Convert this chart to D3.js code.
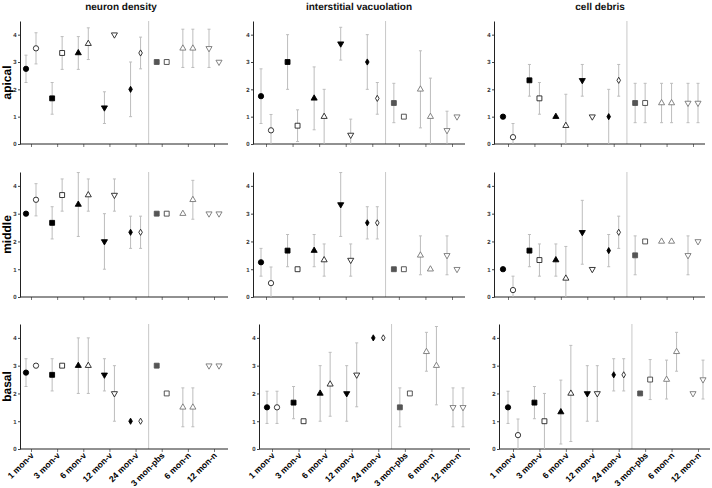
<!DOCTYPE html>
<html><head><meta charset="utf-8">
<script src="https://cdn.jsdelivr.net/npm/d3@7"></script>
<style>body{margin:0;background:#fff}svg{display:block;font-family:"Liberation Sans",Arial,sans-serif;text-rendering:geometricPrecision}</style>
</head><body><svg id="c" width="712" height="488"></svg>
<script>
const categories = ["1 mon-v","3 mon-v","6 mon-v","12 mon-v","24 mon-v","3 mon-pbs","6 mon-n","12 mon-n"];
const measures = ["neuron density","interstitial vacuolation","cell debris"];
const regions = ["apical","middle","basal"];
const yTicks = [0,1,2,3,4];

// neuron density
const ndApicalA = [2.75,1.67,3.33,1.33,2.0,3.0,3.5,3.5];
const ndApicalAErr = [0.5,0.58,0.6,0.58,1.0,0,0.7,0.7];
const ndApicalB = [3.5,3.33,3.67,4.0,3.33,3.0,3.5,3.0];
const ndApicalBErr = [0.57,0.6,0.58,0,0.58,0,0.7,0];
const ndMiddleA = [3.0,2.67,3.33,2.0,2.33,3.0,3.0,3.0];
const ndMiddleAErr = [0,0.58,1.15,1.0,0.58,0,0,0];
const ndMiddleB = [3.5,3.67,3.67,3.67,2.33,3.0,3.5,3.0];
const ndMiddleBErr = [0.58,0.58,0.58,0.58,0.58,0,0.7,0];
const ndBasalA = [2.75,2.67,3.0,2.67,1.0,3.0,1.5,3.0];
const ndBasalAErr = [0.5,0.58,1.0,0.58,0,0,0.7,0];
const ndBasalB = [3.0,3.0,3.0,2.0,1.0,2.0,1.5,3.0];
const ndBasalBErr = [0,0,1.0,1.0,0,0,0.7,0];
// interstitial vacuolation
const ivApicalA = [1.75,3.0,1.67,3.67,3.0,1.5,2.0,0.5];
const ivApicalAErr = [1.0,1.0,1.15,0.6,1.0,0.72,1.41,0.7];
const ivApicalB = [0.5,0.67,1.0,0.33,1.67,1.0,1.0,1.0];
const ivApicalBErr = [0.58,0.58,1.0,0.58,0.58,0,1.41,0];
const ivMiddleA = [1.25,1.67,1.67,3.33,2.67,1.0,1.5,1.5];
const ivMiddleAErr = [0.5,0.58,0.58,1.15,0.58,0,0.7,0.7];
const ivMiddleB = [0.5,1.0,1.33,1.33,2.67,1.0,1.0,1.0];
const ivMiddleBErr = [0.58,0,0.58,0.58,0.58,0,0,0];
const ivBasalA = [1.5,1.67,2.0,2.0,4.0,1.5,3.5,1.5];
const ivBasalAErr = [0.58,0.58,1.0,1.0,0,0.7,0.7,0.7];
const ivBasalB = [1.5,1.0,2.33,2.67,4.0,2.0,3.0,1.5];
const ivBasalBErr = [0.58,0,1.15,1.15,0,0,1.41,0.7];
// cell debris
const cdApicalA = [1.0,2.33,1.0,2.33,1.0,1.5,1.5,1.5];
const cdApicalAErr = [0,0.58,0,0.58,1.0,0.72,0.72,0.72];
const cdApicalB = [0.25,1.67,0.67,1.0,2.33,1.5,1.5,1.5];
const cdApicalBErr = [0.5,0.58,1.15,0,0.58,0.72,0.72,0.72];
const cdMiddleA = [1.0,1.67,1.33,2.33,1.67,1.5,2.0,1.5];
const cdMiddleAErr = [0,0.58,0.58,1.15,0.58,0.7,0,0.7];
const cdMiddleB = [0.25,1.33,0.67,1.0,2.33,2.0,2.0,2.0];
const cdMiddleBErr = [0.5,0.58,1.15,0,0.58,0,0,0];
const cdBasalA = [1.5,1.67,1.33,2.0,2.67,2.0,2.5,2.0];
const cdBasalAErr = [0.58,0.58,1.15,1.0,0.58,0,0.7,0];
const cdBasalB = [0.5,1.0,2.0,2.0,2.67,2.5,3.5,2.5];
const cdBasalBErr = [0.58,1.0,1.73,1.0,0.58,0.72,0.7,0.7];

const panelData = [
  [[ndApicalA,ndApicalAErr,ndApicalB,ndApicalBErr],[ivApicalA,ivApicalAErr,ivApicalB,ivApicalBErr],[cdApicalA,cdApicalAErr,cdApicalB,cdApicalBErr]],
  [[ndMiddleA,ndMiddleAErr,ndMiddleB,ndMiddleBErr],[ivMiddleA,ivMiddleAErr,ivMiddleB,ivMiddleBErr],[cdMiddleA,cdMiddleAErr,cdMiddleB,cdMiddleBErr]],
  [[ndBasalA,ndBasalAErr,ndBasalB,ndBasalBErr],[ivBasalA,ivBasalAErr,ivBasalB,ivBasalBErr],[cdBasalA,cdBasalAErr,cdBasalB,cdBasalBErr]]
];

// layout
const colsTop = [{ax:20,x0:31,x1:214,end:228},{ax:253,x0:266,x1:452,end:465},{ax:494,x0:508,x1:693,end:705}];
const colsBot = [{ax:20,x0:31,x1:214,end:228},{ax:259,x0:272,x1:458,end:470},{ax:499,x0:513,x1:698,end:710}];
const rowsL = [{y0:144,yt:21},{y0:297,yt:172},{y0:449,yt:324}];
const titleX = [121,359,600];

const svg = d3.select("#c");
svg.append("rect").attr("width",712).attr("height",488).attr("fill","#fff");

const symA = [d3.symbolCircle,d3.symbolSquare,d3.symbolTriangle,d3.symbolTriangle,d3.symbolDiamond,d3.symbolSquare,d3.symbolTriangle,d3.symbolTriangle];
const rotA = [0,0,0,180,0,0,0,180];
const sizeOf = s => s===d3.symbolCircle?22 : s===d3.symbolSquare?24 : s===d3.symbolTriangle?16 : 11;
function styleFor(i, side){
  if (i<5) return side==="A" ? {fill:"#000",stroke:"#000"} : {fill:"#fff",stroke:"#222"};
  if (i===5) return side==="A" ? {fill:"#555",stroke:"#555"} : {fill:"#fff",stroke:"#444"};
  return {fill:"#fff",stroke:"#777"};
}

measures.forEach((m,ci)=>{
  svg.append("text").attr("x",titleX[ci]).attr("y",10).attr("text-anchor","middle")
    .attr("font-size",10).attr("font-weight","bold").attr("fill","#111").text(m);
});

regions.forEach((r,ri)=>{
  const row = rowsL[ri];
  svg.append("text").attr("transform",`translate(10.5,${(row.y0+row.yt)/2}) rotate(-90)`)
    .attr("text-anchor","middle").attr("font-size",12).attr("font-weight","bold").attr("fill","#000").text(r);
  const cols = ri===2 ? colsBot : colsTop;
  cols.forEach((c,ci)=>{
    const x = d3.scalePoint().domain(categories).range([c.x0,c.x1]);
    const y = d3.scaleLinear().domain([0,4.5]).range([row.y0,row.yt]);
    const g = svg.append("g");
    const xd = (x(categories[4])+x(categories[5]))/2;
    g.append("line").attr("x1",xd).attr("x2",xd).attr("y1",row.yt).attr("y2",row.y0)
      .attr("stroke","#c8c8c8").attr("stroke-width",1);
    const ya = g.append("g").attr("transform",`translate(${c.ax},0)`)
      .call(d3.axisLeft(y).tickValues(yTicks).tickSize(2).tickSizeOuter(0).tickFormat(d3.format("d")));
    ya.select(".domain").attr("stroke","#222");
    ya.selectAll(".tick line").attr("stroke","#444");
    ya.selectAll(".tick text").attr("font-size",6).attr("font-weight","bold").attr("fill","#333").attr("x",-3.5)
      .attr("font-family","Liberation Sans, Arial, sans-serif");
    const xa = g.append("g").attr("transform",`translate(0,${row.y0})`)
      .call(d3.axisBottom(x).tickSize(3).tickSizeOuter(0));
    xa.select(".domain").remove();
    xa.selectAll(".tick line").attr("stroke","#777");
    if (ri===2){
      xa.selectAll(".tick text").attr("font-size",8.6).attr("font-weight","bold").attr("fill","#000")
        .attr("font-family","Liberation Sans, Arial, sans-serif")
        .attr("text-anchor","end").attr("dy",0).attr("y",0)
        .attr("transform","translate(3,7) rotate(-45)");
    } else {
      xa.selectAll(".tick text").remove();
    }
    g.append("line").attr("x1",c.ax).attr("x2",c.end).attr("y1",row.y0).attr("y2",row.y0)
      .attr("stroke","#222").attr("stroke-width",1);

    const [A,AE,B,BE] = panelData[ri][ci];
    [["A",A,AE,-5],["B",B,BE,5]].forEach(([side,vals,errs,off])=>{
      vals.forEach((v,i)=>{
        const cx = x(categories[i])+off;
        const e = errs[i];
        if (e>0){
          const lo = Math.max(0,v-e), hi = Math.min(4.5,v+e);
          g.append("line").attr("x1",cx).attr("x2",cx).attr("y1",y(lo)).attr("y2",y(hi))
            .attr("stroke","#bdbdbd").attr("stroke-width",1);
          [hi, lo].forEach(t=>{ if(t>0) g.append("line").attr("x1",cx-1.5).attr("x2",cx+1.5).attr("y1",y(t)).attr("y2",y(t))
            .attr("stroke","#bdbdbd").attr("stroke-width",1);});
        }
        const st = styleFor(i,side);
        const s = symA[i];
        g.append("path").attr("d",d3.symbol().type(s).size(sizeOf(s))())
          .attr("transform",`translate(${cx},${y(v)}) rotate(${rotA[i]})`)
          .attr("fill",st.fill).attr("stroke",st.stroke).attr("stroke-width",0.9);
      });
    });
  });
});
</script></body></html>
